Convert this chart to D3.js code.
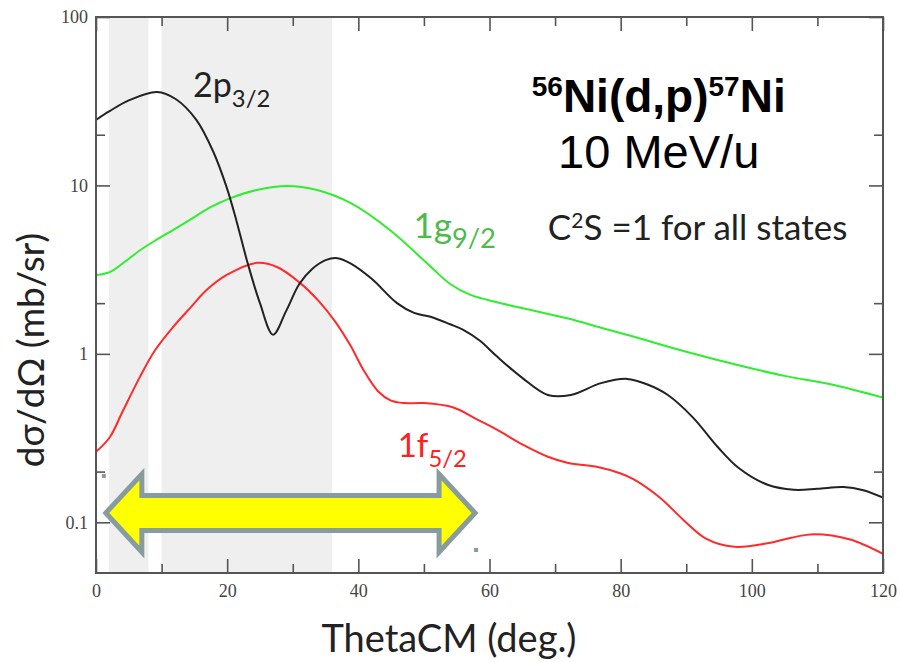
<!DOCTYPE html>
<html>
<head>
<meta charset="utf-8">
<script src="https://cdn.jsdelivr.net/npm/d3@7"></script>
<style>
    body { margin: 0; background: #fff; }
    svg { display: block; }
</style>
</head>
<body>
<svg id="chart"></svg>
<script>
// angular distributions (theta in deg, dsigma/dOmega in mb/sr)
const theta2p = [0, 2, 5, 9.3, 12.2, 15.3, 17.9, 19.9, 21.4, 23, 25, 27, 29, 31, 33, 35, 36.8, 38.8, 42, 45.9, 48.5, 51, 54, 56, 58.5, 61.2, 65, 68.9, 72.4, 77, 81, 84, 87.2, 91, 94.8, 98, 102.4, 106.4, 110, 114, 117, 120];
const sigma2p = [24.5, 27.5, 32, 35.9, 32.5, 24.5, 15.8, 9.8, 6.2, 3.6, 2.0, 1.3, 1.8, 2.6, 3.2, 3.6, 3.7, 3.45, 2.8, 2.0, 1.75, 1.66, 1.5, 1.39, 1.2, 0.96, 0.72, 0.57, 0.57, 0.67, 0.71, 0.66, 0.57, 0.42, 0.28, 0.21, 0.167, 0.156, 0.158, 0.162, 0.155, 0.14];

const theta1g = [0, 2.1, 4.1, 6.7, 9.2, 11.8, 14.3, 17.4, 20.5, 24.5, 29.1, 33.7, 38.8, 44.9, 51, 54, 57.1, 61, 66.3, 72, 77, 81.5, 90, 98.3, 105, 112, 120];
const sigma1g = [2.94, 3.06, 3.45, 4.12, 4.75, 5.45, 6.24, 7.4, 8.4, 9.4, 9.93, 9.4, 7.87, 5.4, 3.3, 2.6, 2.24, 2.03, 1.82, 1.62, 1.43, 1.28, 1.03, 0.85, 0.74, 0.66, 0.55];

const theta1f = [0, 2.1, 4, 6.7, 9, 11.8, 14.5, 16.9, 20, 24.5, 27.6, 31.1, 34, 36.5, 38.8, 40.8, 43, 44.9, 47, 50, 54.5, 58, 61.2, 65, 68.9, 72, 76.5, 80, 82, 86, 89.6, 93, 97.3, 102.4, 106, 109.5, 115, 120];
const sigma1f = [0.262, 0.32, 0.45, 0.73, 1.05, 1.45, 1.9, 2.4, 2.95, 3.47, 3.28, 2.64, 2.05, 1.55, 1.12, 0.8, 0.6, 0.53, 0.51, 0.51, 0.48, 0.41, 0.354, 0.29, 0.245, 0.225, 0.213, 0.195, 0.18, 0.14, 0.103, 0.08, 0.0715, 0.075, 0.081, 0.085, 0.079, 0.065];

// shaded angular ranges (deg)
const bands = [[2, 8], [10, 36]];

// double arrow: angular span and level
const arrowSpan = [1.5, 57.8];
const arrowLevel = 0.1135;

const xTicks = [0, 20, 40, 60, 80, 100, 120];
const xMinor = [10, 30, 50, 70, 90, 110];
const yTicks = [0.1, 1, 10, 100];
const yMinor = [0.2, 2, 20];
const yTickLabels = ["0.1", "1", "10", "100"];

const width = 900;
const height = 662;
const margin = { top: 17, right: 17, bottom: 89, left: 96 };

const svg = d3.select("#chart")
    .attr("width", width)
    .attr("height", height);

const x = d3.scaleLinear()
    .domain([0, 120])
    .range([margin.left, width - margin.right]);

const y = d3.scaleLog()
    .domain([0.05, 100])
    .range([height - margin.bottom, margin.top]);

// shaded bands
svg.selectAll("rect.band")
    .data(bands)
    .enter().append("rect")
    .attr("class", "band")
    .attr("x", d => x(d[0]))
    .attr("width", d => x(d[1]) - x(d[0]))
    .attr("y", margin.top)
    .attr("height", height - margin.bottom - margin.top)
    .attr("fill", "#efefef");

svg.append("clipPath")
    .attr("id", "plot-clip")
    .append("rect")
    .attr("x", margin.left)
    .attr("y", margin.top)
    .attr("width", width - margin.left - margin.right)
    .attr("height", height - margin.top - margin.bottom);

const line = d3.line()
    .x(d => x(d[0]))
    .y(d => y(d[1]))
    .curve(d3.curveCatmullRom.alpha(0.5));

const curves = [
    { theta: theta1g, sigma: sigma1g, color: "#2fee2f" },
    { theta: theta1f, sigma: sigma1f, color: "#ff2a2a" },
    { theta: theta2p, sigma: sigma2p, color: "#222" }
];

svg.append("g")
    .attr("clip-path", "url(#plot-clip)")
    .selectAll("path")
    .data(curves)
    .enter().append("path")
    .attr("d", d => line(d.theta.map((t, i) => [t, d.sigma[i]])))
    .attr("fill", "none")
    .attr("stroke", d => d.color)
    .attr("stroke-width", 2);

// axes, ticks inward on all four sides
function styleAxis(g) {
    g.select(".domain").remove();
    g.selectAll(".tick line").attr("stroke", "#555").attr("stroke-width", 1.6);
    g.selectAll(".tick text")
        .attr("fill", "#444")
        .style("font-family", "'Liberation Serif', serif")
        .style("font-size", "18px");
}

const bottom = height - margin.bottom;
const right = width - margin.right;

svg.append("g")
    .attr("transform", `translate(0,${bottom})`)
    .call(d3.axisBottom(x).tickValues(xTicks).tickSizeInner(-14).tickSizeOuter(0).tickPadding(11))
    .call(styleAxis);
svg.append("g")
    .attr("transform", `translate(0,${bottom})`)
    .call(d3.axisBottom(x).tickValues(xMinor).tickSize(-9).tickFormat(""))
    .call(styleAxis);
svg.append("g")
    .attr("transform", `translate(0,${margin.top})`)
    .call(d3.axisTop(x).tickValues(xTicks).tickSize(-14).tickFormat(""))
    .call(styleAxis);
svg.append("g")
    .attr("transform", `translate(0,${margin.top})`)
    .call(d3.axisTop(x).tickValues(xMinor).tickSize(-9).tickFormat(""))
    .call(styleAxis);

svg.append("g")
    .attr("transform", `translate(${margin.left},0)`)
    .call(d3.axisLeft(y).tickValues(yTicks).tickSizeInner(-14).tickSizeOuter(0).tickPadding(8)
        .tickFormat((d, i) => yTickLabels[i]))
    .call(styleAxis);
svg.append("g")
    .attr("transform", `translate(${margin.left},0)`)
    .call(d3.axisLeft(y).tickValues(yMinor).tickSize(-9).tickFormat(""))
    .call(styleAxis);
svg.append("g")
    .attr("transform", `translate(${right},0)`)
    .call(d3.axisRight(y).tickValues(yTicks).tickSize(-14).tickFormat(""))
    .call(styleAxis);
svg.append("g")
    .attr("transform", `translate(${right},0)`)
    .call(d3.axisRight(y).tickValues(yMinor).tickSize(-9).tickFormat(""))
    .call(styleAxis);

// frame
svg.append("rect")
    .attr("x", margin.left)
    .attr("y", margin.top)
    .attr("width", right - margin.left)
    .attr("height", bottom - margin.top)
    .attr("fill", "none")
    .attr("stroke", "#555")
    .attr("stroke-width", 2);

// axis titles
svg.append("text")
    .attr("x", 449)
    .attr("y", 652)
    .attr("text-anchor", "middle")
    .attr("fill", "#222")
    .style("font-family", "Lato, sans-serif")
    .style("font-size", "38px")
    .text("ThetaCM (deg.)");

svg.append("text")
    .attr("transform", "translate(44,350) rotate(-90)")
    .attr("text-anchor", "middle")
    .attr("fill", "#222")
    .style("font-family", "Lato, sans-serif")
    .style("font-size", "37px")
    .text("dσ/dΩ (mb/sr)");

// curve labels: main part + subscript
function stateLabel(theta, sigma, main, sub, color, size, subScale) {
    const t = svg.append("text")
        .attr("x", x(theta))
        .attr("y", y(sigma))
        .attr("fill", color)
        .style("font-family", "Lato, sans-serif")
        .style("font-size", size + "px");
    t.append("tspan").text(main);
    t.append("tspan")
        .attr("dy", size * 0.3)
        .style("font-size", (size * subScale) + "px")
        .text(sub);
}

stateLabel(14.8, 33.5, "2p", "3/2", "#222", 34, 0.7);
stateLabel(48.4, 4.88, "1g", "9/2", "#4cbb4c", 35, 0.78);
stateLabel(46, 0.244, "1f", "5/2", "#ff2020", 33, 0.72);

const c2s = svg.append("text")
    .attr("x", x(68.9))
    .attr("y", y(4.75))
    .attr("fill", "#222")
    .style("font-family", "Lato, sans-serif")
    .style("font-size", "35px");
c2s.append("tspan").text("C");
c2s.append("tspan").attr("dy", -12).style("font-size", "21px").text("2");
c2s.append("tspan").attr("dy", 12).text("S =1 for all states");

// reaction title
const title = svg.append("text")
    .attr("x", x(85.8))
    .attr("y", y(27.3))
    .attr("text-anchor", "middle")
    .attr("fill", "#000")
    .style("font-family", "'Liberation Sans', Arial, sans-serif")
    .style("font-weight", "bold")
    .style("font-size", "46px");
title.append("tspan").attr("dy", -16).style("font-size", "28px").text("56");
title.append("tspan").attr("dy", 16).text("Ni(d,p)");
title.append("tspan").attr("dy", -16).style("font-size", "28px").text("57");
title.append("tspan").attr("dy", 16).text("Ni");

svg.append("text")
    .attr("x", x(85.8))
    .attr("y", y(12.7))
    .attr("text-anchor", "middle")
    .attr("fill", "#000")
    .style("font-family", "'Liberation Sans', Arial, sans-serif")
    .style("font-size", "47px")
    .text("10 MeV/u");

// double-headed arrow over the angular range
const ax0 = x(arrowSpan[0]);
const ax1 = x(arrowSpan[1]);
const ay = y(arrowLevel);
const headLen = 36, headHalf = 39, shaftHalf = 17.5;

const arrowPath = d3.path();
arrowPath.moveTo(ax0, ay);
arrowPath.lineTo(ax0 + headLen, ay - headHalf);
arrowPath.lineTo(ax0 + headLen, ay - shaftHalf);
arrowPath.lineTo(ax1 - headLen, ay - shaftHalf);
arrowPath.lineTo(ax1 - headLen, ay - headHalf);
arrowPath.lineTo(ax1, ay);
arrowPath.lineTo(ax1 - headLen, ay + headHalf);
arrowPath.lineTo(ax1 - headLen, ay + shaftHalf);
arrowPath.lineTo(ax0 + headLen, ay + shaftHalf);
arrowPath.lineTo(ax0 + headLen, ay + headHalf);
arrowPath.closePath();

svg.append("path")
    .attr("d", arrowPath.toString())
    .attr("fill", "#ffff00")
    .attr("stroke", "#879d9d")
    .attr("stroke-width", 5)
    .attr("stroke-linejoin", "miter");

// selection handles left on the arrow
svg.selectAll("rect.handle")
    .data([[ax0 - 4, ay - headHalf], [ax1 - 1, ay + headHalf - 4]])
    .enter().append("rect")
    .attr("class", "handle")
    .attr("x", d => d[0])
    .attr("y", d => d[1])
    .attr("width", 4)
    .attr("height", 4)
    .attr("fill", "#879d9d");
</script>
</body>
</html>
